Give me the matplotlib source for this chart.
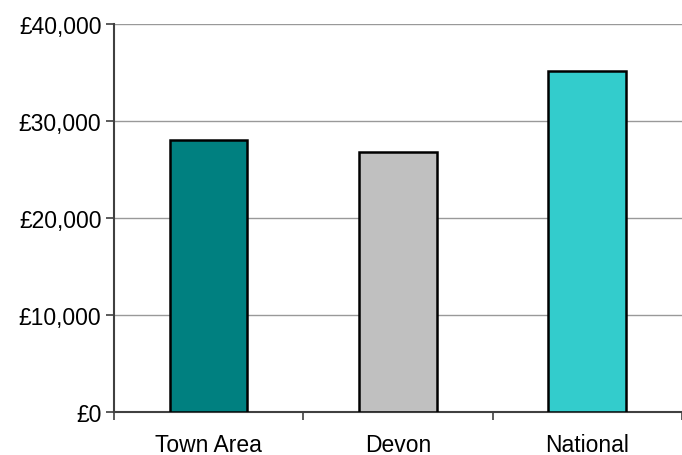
import matplotlib.pyplot as plt
from matplotlib.ticker import FuncFormatter

plt.rcParams['font.family'] = ['Liberation Sans', 'DejaVu Sans']

categories = ['Town Area', 'Devon', 'National']
values = [28050, 26800, 35150]
colors = ['#008080', '#C0C0C0', '#33CCCC']

fig = plt.figure(figsize=(6.82, 4.56), dpi=100)
ax = fig.add_axes([0.167, 0.094, 0.833, 0.851])

x = list(range(len(categories)))
ax.bar(x, values, width=0.41, color=colors, edgecolor='black', linewidth=1.8, zorder=3)

ax.set_xlim(-0.5, 2.5)
ax.set_ylim(0, 40000)
ax.set_yticks([0, 10000, 20000, 30000, 40000])
ax.yaxis.set_major_formatter(FuncFormatter(lambda v, p: '£{:,.0f}'.format(v)))
ax.grid(axis='y', color='#999999', linewidth=1.0, zorder=0)

# category labels in the middle, tick marks between categories
ax.set_xticks(x)
ax.set_xticklabels(categories)
ax.set_xticks([-0.5, 0.5, 1.5, 2.5], minor=True)
ax.tick_params(axis='x', which='major', length=0, pad=15, labelsize=16.5)
ax.tick_params(axis='x', which='minor', length=6, width=1.2, color='#404040')
ax.tick_params(axis='y', length=6, width=1.2, color='#404040', labelsize=16.5, pad=3)

for s in ['top', 'right']:
    ax.spines[s].set_visible(False)
for s in ['left', 'bottom']:
    ax.spines[s].set_color('#404040')
    ax.spines[s].set_linewidth(1.5)

fig.savefig('out.png', dpi=100)
